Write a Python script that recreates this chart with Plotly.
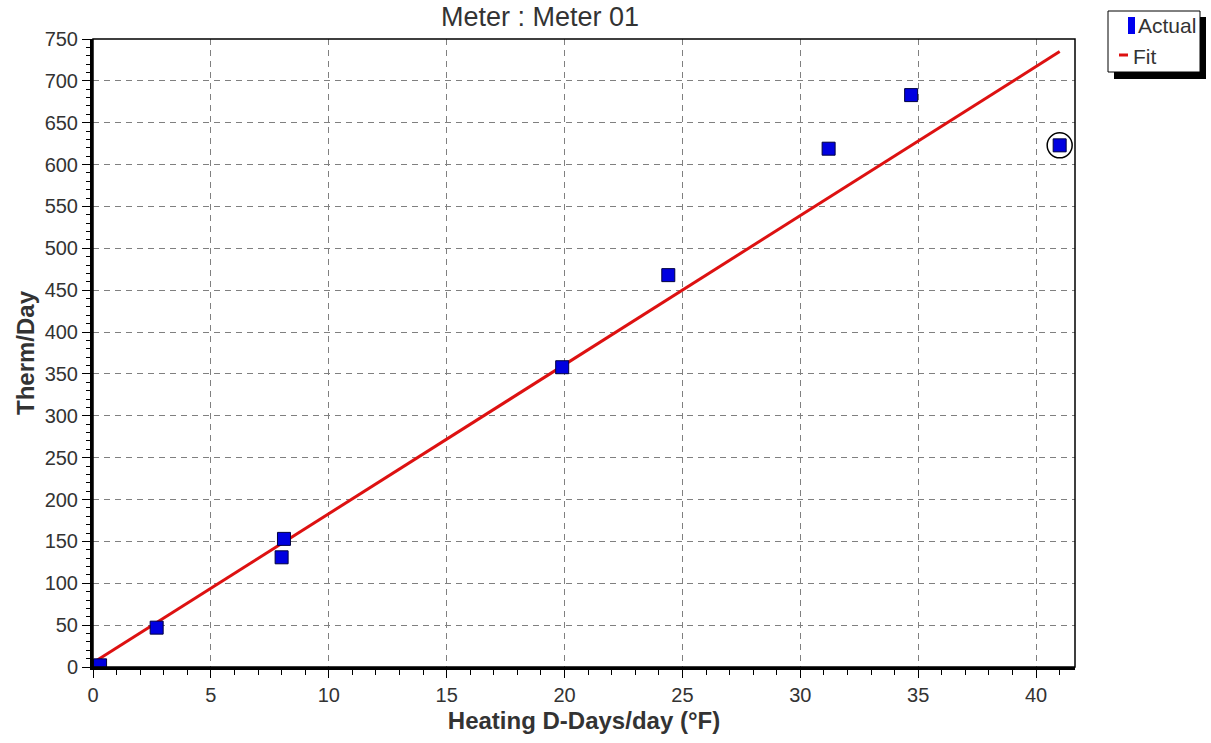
import plotly.graph_objects as go

actual_x = [0.3, 2.7, 8.1, 8.0, 19.9, 24.4, 31.2, 34.7, 41.0]
actual_y = [2, 47, 153, 131, 358, 468, 619, 683, 623]
fit_x = [0.0, 41.0]
fit_y = [5, 735]
highlight_x = [41.0]
highlight_y = [623]

FONT = "Liberation Sans, Arial"
TXT = "#333333"

fig = go.Figure()
fig.add_trace(go.Scatter(
    x=fit_x, y=fit_y, mode="lines", name="Fit",
    line=dict(color="#dd1111", width=3),
))
fig.add_trace(go.Scatter(
    x=actual_x, y=actual_y, mode="markers", name="Actual",
    marker=dict(symbol="square", size=13, color="#0000e0",
                line=dict(color="#000040", width=1)),
))
fig.add_trace(go.Scatter(
    x=highlight_x, y=highlight_y, mode="markers", showlegend=False,
    marker=dict(symbol="circle-open", size=25, color="black",
                line=dict(color="black", width=1.5)),
))

axis_common = dict(
    showline=True, linecolor="black", linewidth=3,
    ticks="outside", ticklen=8, tickcolor="black", tickwidth=1,
    showgrid=True, gridcolor="#808080", griddash="6px,5px", gridwidth=1,
    zeroline=False, automargin=False,
    tickfont=dict(family=FONT, size=20, color=TXT),
)

fig.update_xaxes(
    range=[0, 41.65], dtick=5, tick0=0,
    minor=dict(dtick=1, ticklen=5, tickcolor="black", ticks="outside", showgrid=False),
    title=dict(text="<b>Heating D-Days/day (°F)</b>",
               font=dict(family=FONT, size=24, color=TXT), standoff=8),
    **axis_common,
)
fig.update_yaxes(
    range=[0, 750], dtick=50, tick0=0,
    minor=dict(dtick=10, ticklen=4, tickcolor="black", ticks="outside", showgrid=False),
    title=dict(text="<b>Therm/Day</b>",
               font=dict(family=FONT, size=24, color=TXT), standoff=4),
    **axis_common,
)

W, H = 1211, 743
L, R, T, B = 93, 1075, 39, 667


def px_x(p):
    return (p - L) / (R - L)


def px_y(p):
    return (B - p) / (B - T)


fig.update_layout(
    width=W, height=H,
    margin=dict(l=L, r=W - R, t=T, b=H - B, autoexpand=False),
    plot_bgcolor="white", paper_bgcolor="white",
    showlegend=False,
    title=dict(text="Meter : Meter 01", x=540 / W, xanchor="center",
               y=1 - 17 / H, yanchor="middle", automargin=False,
               font=dict(family=FONT, size=27, color=TXT)),
    shapes=[
        dict(type="rect", xref="paper", yref="paper", x0=0, x1=1, y0=0, y1=1,
             line=dict(color="black", width=1.5), layer="above"),
        # legend shadow
        dict(type="rect", xref="paper", yref="paper",
             x0=px_x(1114), x1=px_x(1206), y0=px_y(79), y1=px_y(17),
             fillcolor="black", line=dict(width=0), layer="above"),
        # legend box
        dict(type="rect", xref="paper", yref="paper",
             x0=px_x(1108), x1=px_x(1200), y0=px_y(72), y1=px_y(11),
             fillcolor="white", line=dict(color="black", width=1), layer="above"),
        # Actual symbol
        dict(type="rect", xref="paper", yref="paper",
             x0=px_x(1128), x1=px_x(1135), y0=px_y(34), y1=px_y(17),
             fillcolor="#0000ee", line=dict(width=0), layer="above"),
        # Fit symbol
        dict(type="line", xref="paper", yref="paper",
             x0=px_x(1119), x1=px_x(1128), y0=px_y(55), y1=px_y(55),
             line=dict(color="#dd1111", width=3), layer="above"),
    ],
    annotations=[
        dict(text="Actual", xref="paper", yref="paper", x=px_x(1136), y=px_y(26),
             xanchor="left", yanchor="middle", showarrow=False,
             font=dict(family=FONT, size=21, color=TXT)),
        dict(text="Fit", xref="paper", yref="paper", x=px_x(1131), y=px_y(56),
             xanchor="left", yanchor="middle", showarrow=False,
             font=dict(family=FONT, size=21, color=TXT)),
    ],
)

fig.write_html("out.html")
